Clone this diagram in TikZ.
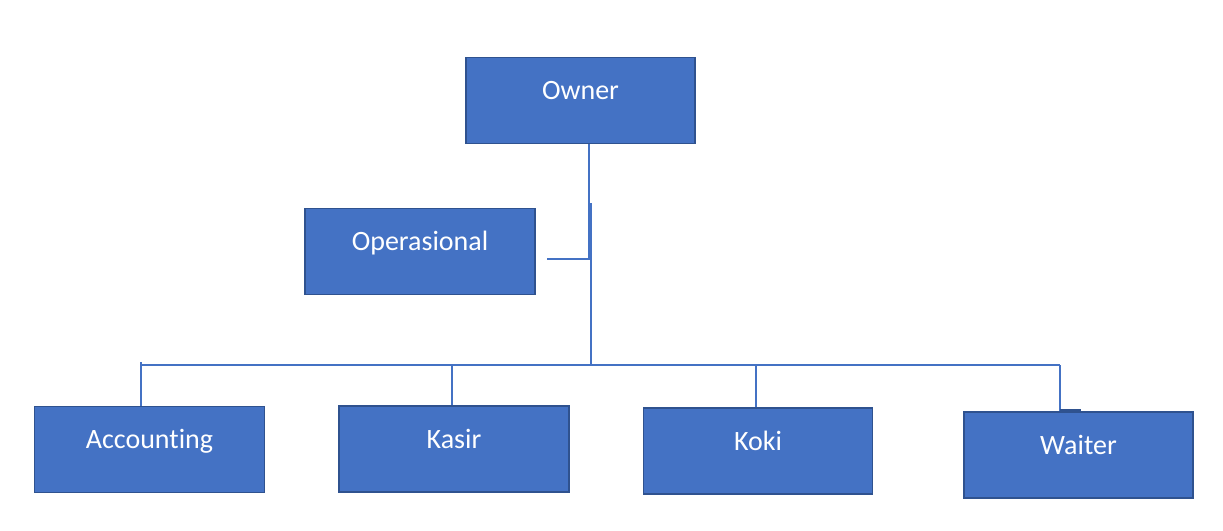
\documentclass[tikz,border=0pt]{standalone}
\usepackage{fontspec}
\setmainfont{Carlito}[Ligatures=NoCommon]
\definecolor{boxfill}{HTML}{4472C4}
\definecolor{boxedge}{HTML}{2F528F}
\definecolor{linecol}{HTML}{4472C4}
\tikzset{
  orgbox/.style={draw=boxedge, line width=1.8pt, fill=boxfill, minimum height=86pt,
    inner sep=0pt, text=white, font=\fontsize{28}{30}\selectfont,
    text height=20pt, text depth=22pt},
  conn/.style={draw=linecol, line width=1.4pt},
}
\begin{document}
\begin{tikzpicture}[x=1pt,y=1pt]
\useasboundingbox (0,0) rectangle (1223,-530);
\node[orgbox, minimum width=229pt] (owner) at (580.5,-100.5) {Owner};
\node[orgbox, minimum width=230pt] (oper) at (420,-251.5) {Operasional};
\node[orgbox, minimum width=230pt] (acc) at (149.5,-449.5) {Accounting};
\node[orgbox, minimum width=230pt] (kasir) at (454,-449) {Kasir};
\node[orgbox, minimum width=229pt] (koki) at (758,-451) {Koki};
\node[orgbox, minimum width=229pt] (waiter) at (1078.5,-455) {Waiter};
\coordinate (j1) at (589,-259);
\coordinate (opend) at (547,-259);
\coordinate (j2top) at (591,-203);
\coordinate (busmid) at (591,-365);
\coordinate (bl) at (141,-365);
\coordinate (bk) at (452,-365);
\coordinate (bko) at (756,-365);
\coordinate (br) at (1060,-365);
\draw[conn] (owner.south -| j1) -- (j1) -- (opend);
\draw[conn] (j2top) -- (busmid);
\draw[conn] (bl) -- (br);
\draw[conn] ([yshift=3pt]bl) -- (acc.north -| bl);
\draw[conn] (bk) -- (kasir.north -| bk);
\draw[conn] (bko) -- (koki.north -| bko);
\draw[conn] (br) -- (waiter.north -| br);
\draw[draw=boxedge, line width=1.8pt] ([yshift=1pt]waiter.north -| br) -- ++(21,0);
\end{tikzpicture}
\end{document}
